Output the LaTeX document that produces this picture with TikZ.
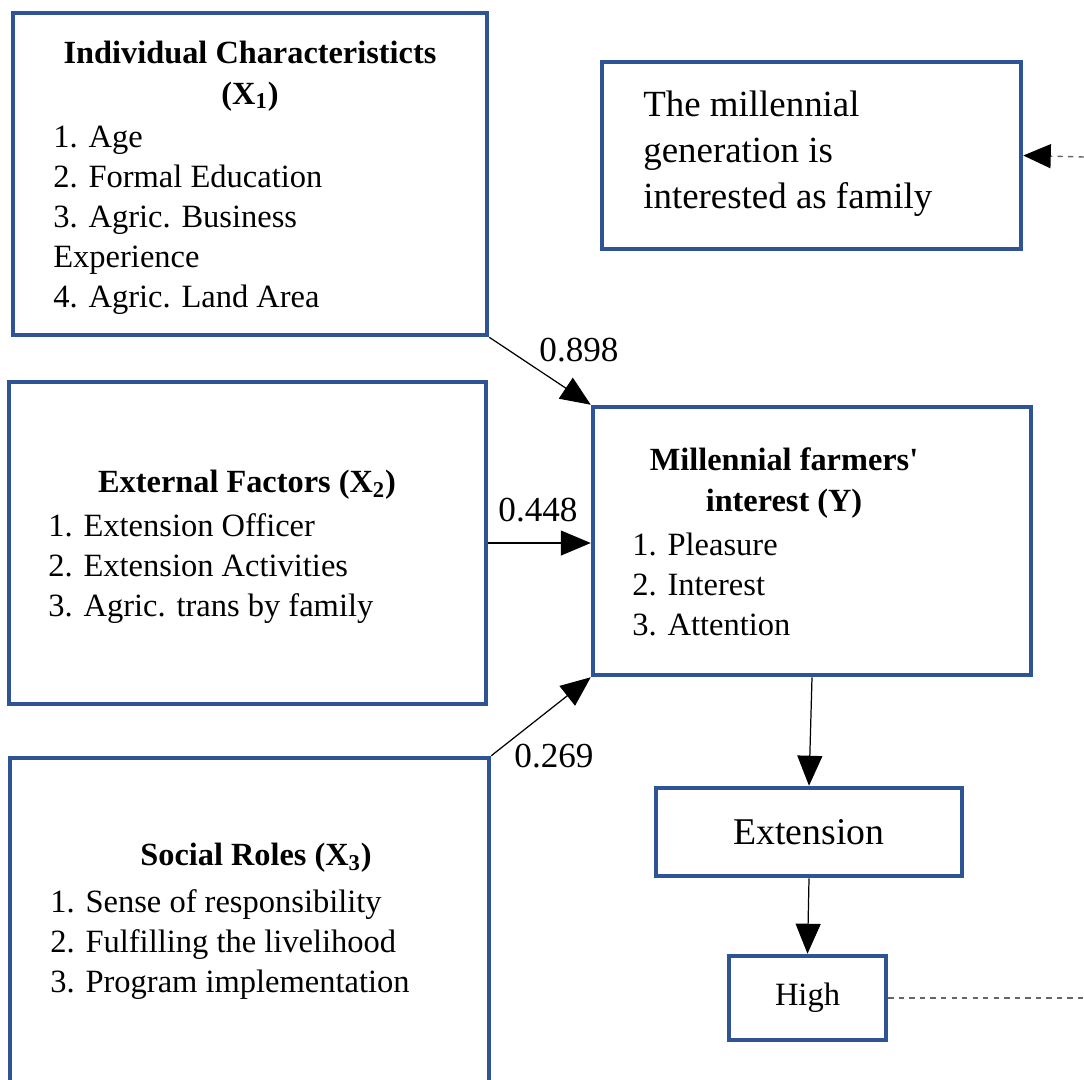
\documentclass[tikz,border=0pt]{standalone}
\usepackage{fontspec}
\setmainfont{Liberation Serif}
\usetikzlibrary{arrows.meta}
\definecolor{boxblue}{RGB}{47,84,150}
\tikzset{
  blockbox/.style={draw=boxblue,line width=2.6pt,inner sep=0pt},
  bodytext/.style={inner sep=0pt,align=left,font=\fontsize{18.5}{22.7}\selectfont},
  headtext/.style={inner sep=0pt,align=center,font=\fontsize{18.4}{23.5}\selectfont\bfseries},
  weight/.style={inner sep=0pt,font=\fontsize{20}{24}\selectfont},
  flow/.style={-{Triangle[length=0.6cm,width=0.5cm]},line width=0.7pt},
}
\begin{document}
\begin{tikzpicture}[x=0.02cm,y=-0.02cm]
    \useasboundingbox (0,0) rectangle (1084,1079);
    \clip (0,0) rectangle (1084,1079);

    % boxes
    \node [blockbox,minimum width=9.48cm,minimum height=6.44cm] (indiv) at (250,174) {};
    \node [blockbox,minimum width=9.54cm,minimum height=6.44cm] (extern) at (247.5,543) {};
    \node [blockbox,minimum width=9.58cm,minimum height=7.24cm] (social) at (249.5,939) {};
    \node [blockbox,minimum width=8.38cm,minimum height=3.74cm] (family) at (811.5,155.5) {};
    \node [blockbox,minimum width=8.76cm,minimum height=5.36cm] (interest) at (812,541) {};
    \node [blockbox,minimum width=6.12cm,minimum height=1.76cm,font=\fontsize{21.5}{25}\selectfont] (ext) at (809,832) {Extension};
    \node [blockbox,minimum width=3.14cm,minimum height=1.68cm,font=\fontsize{18.5}{22}\selectfont] (high) at (807.5,998) {High};

    % texts
    \node [headtext] (indivhead) at (250,76) {Individual Characteristicts\\(X\textsubscript{1})};
    \node [bodytext,anchor=north west] (indivlist) at (53,126) {1. Age\\2. Formal Education\\3. Agric. Business\\Experience\\4. Agric. Land Area};
    \node [headtext] (externhead) at (247,485) {External Factors (X\textsubscript{2})};
    \node [bodytext,anchor=north west] (externlist) at (48,513) {1. Extension Officer\\2. Extension Activities\\3. Agric. trans by family};
    \node [headtext] (socialhead) at (256,858) {Social Roles (X\textsubscript{3})};
    \node [bodytext,anchor=north west] (sociallist) at (50,889) {1. Sense of responsibility\\2. Fulfilling the livelihood\\3. Program implementation};
    \node [headtext] (interesthead) at (784,483) {Millennial farmers\textquotesingle\\interest (Y)};
    \node [bodytext,anchor=north west] (interestlist) at (632,533) {1. Pleasure\\2. Interest\\3. Attention};
    \node [inner sep=0pt,align=left,anchor=north west,font=\fontsize{21}{26}\selectfont] (familytext) at (643,91) {The millennial\\generation is\\interested as family};

    % connectors
    \draw [flow] (indiv.south east) -- (interest.north west);
    \draw [flow] (extern.east |- 0,543) -- (interest.west |- 0,543);
    \draw [flow] (social.north east) -- (interest.south west);
    \draw [flow] (interest.south) -- (ext.north);
    \draw [flow] (ext.south) -- (high.north);

    \node [weight] (w1) at (579,350) {0.898};
    \node [weight] (w2) at (538,510) {0.448};
    \node [weight] (w3) at (554,756) {0.269};

    \coordinate (farfam) at (1084,157);
    \coordinate (farhigh) at (1084,998);
    \draw [-{Triangle[length=0.55cm,width=0.48cm,color=black]},gray!80!black,dashed,line width=0.8pt] (farfam) -- (family.east);
    \draw [gray!80!black,dashed,line width=0.8pt] (high.east) -- (farhigh);
\end{tikzpicture}
\end{document}
